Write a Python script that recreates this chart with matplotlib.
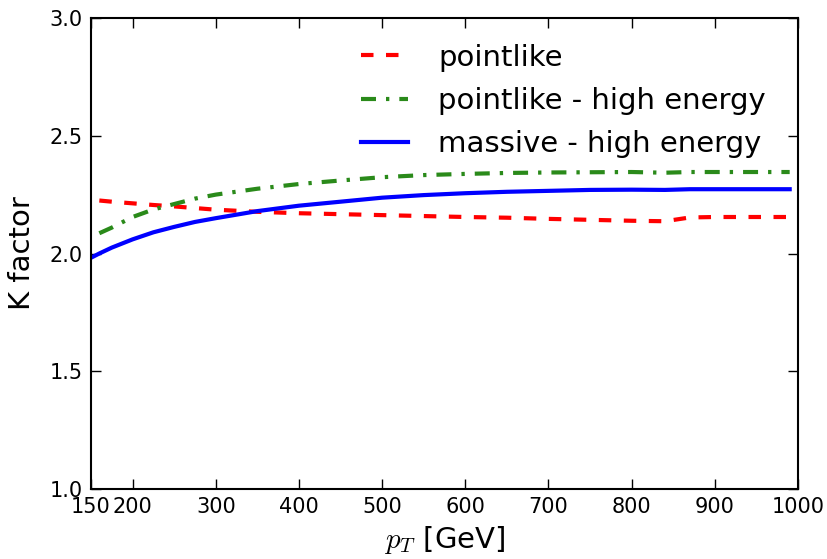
import matplotlib
matplotlib.use("Agg")
import matplotlib.pyplot as plt

plt.rcParams['mathtext.fontset'] = 'cm'

pt = [150, 160, 175, 200, 225, 250, 275, 300, 350, 400, 450, 500, 550, 600, 650, 700, 750, 800, 840, 870, 900, 950, 990]
pointlike = [None, 2.225, 2.220, 2.213, 2.206, 2.200, 2.193, 2.186, 2.177, 2.171, 2.167, 2.163, 2.159, 2.155, 2.152, 2.147, 2.143, 2.139, 2.137, 2.153, 2.155, 2.155, 2.155]
pointlike_he = [None, 2.086, 2.11, 2.155, 2.187, 2.21, 2.233, 2.25, 2.275, 2.295, 2.31, 2.324, 2.333, 2.338, 2.342, 2.344, 2.345, 2.346, 2.343, 2.346, 2.346, 2.346, 2.346]
massive_he = [1.982, 2.0, 2.025, 2.06, 2.09, 2.113, 2.134, 2.15, 2.18, 2.203, 2.22, 2.237, 2.248, 2.256, 2.262, 2.266, 2.27, 2.271, 2.27, 2.273, 2.273, 2.273, 2.273]
xticks = [150, 200, 300, 400, 500, 600, 700, 800, 900, 1000]
yticks = [1.0, 1.5, 2.0, 2.5, 3.0]

fig = plt.figure(figsize=(8.28, 5.59), dpi=100)
ax = fig.add_axes([91/828, 1-489/559, 707/828, 471/559])

def clean(x, y):
    xs = [a for a, b in zip(x, y) if b is not None]
    ys = [b for b in y if b is not None]
    return xs, ys

ax.plot(*clean(pt, pointlike), color='red', lw=3, dashes=(3.0, 3.0), label='pointlike')
ax.plot(*clean(pt, pointlike_he), color='#2a8a1a', lw=3, dashes=(3.6, 2.4, 0.8, 2.4), label='pointlike - high energy')
ax.plot(*clean(pt, massive_he), color='blue', ls='-', lw=3, label='massive - high energy')

ax.set_xlim(150, 1000)
ax.set_ylim(1.0, 3.0)
ax.set_xticks(xticks)
ax.set_yticks(yticks)
ax.set_yticklabels([f"{v:.1f}" for v in yticks])
ax.tick_params(direction='in', top=True, right=True, labelsize=15, length=7, width=1, pad=6)
for s in ax.spines.values():
    s.set_linewidth(1.5)
ax.set_xlabel(r'$p_T$ [GeV]', fontsize=21, labelpad=5)
ax.set_ylabel('K factor', fontsize=21, labelpad=10)
ax.legend(loc='upper left', frameon=False, fontsize=21, handlelength=1.58, handletextpad=1.06,
          bbox_to_anchor=(0.366, 0.9705), borderaxespad=0.0, labelspacing=0.52)

fig.savefig('out.png', dpi=100)
